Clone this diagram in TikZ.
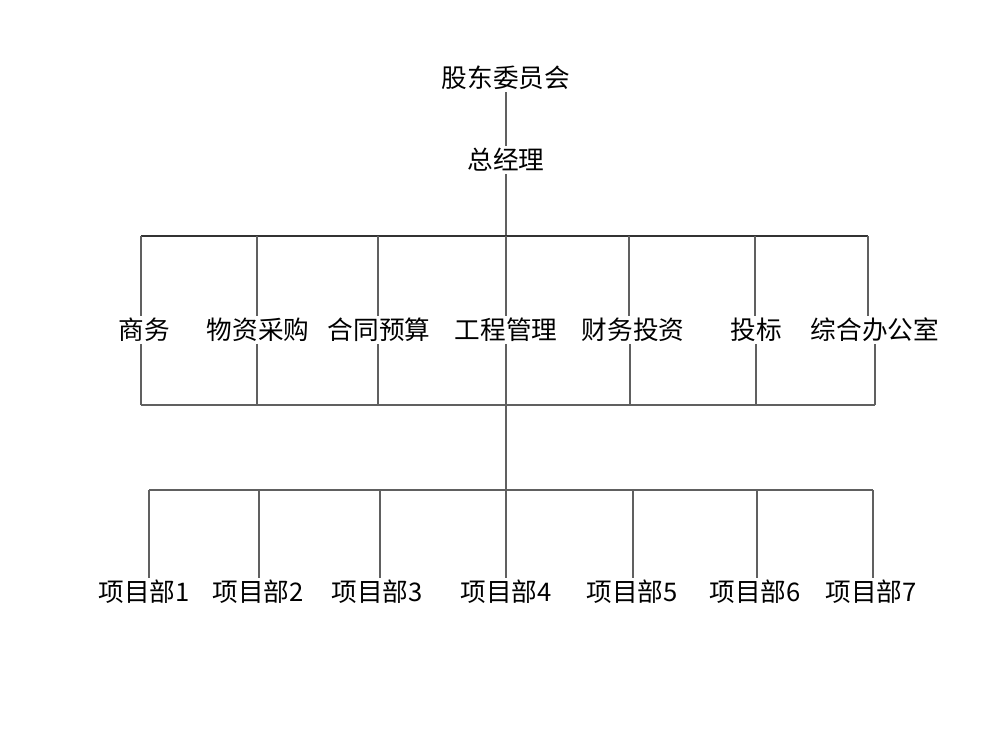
\documentclass[tikz,border=0pt]{standalone}
\usepackage{fontspec}
\setmainfont{Noto Sans CJK SC}

\begin{document}
\begin{tikzpicture}[x=0.02cm,y=-0.02cm,
	unit/.style={inner sep=1pt,font=\fontsize{14.6pt}{17pt}\selectfont},
	link/.style={gray!75!black,line width=0.6pt},
	bus/.style={black!80,line width=0.6pt}]
	\useasboundingbox (0,0) rectangle (1000,750);
	
	% Draw top units
	\node[unit] (board) at (506,78) {股东委员会};
	\node[unit] (manager) at (506,160) {总经理};
	\draw[link] (board) -- (manager);
	
	% Draw departments
	\foreach \n/\x/\t in {1/144/商务,2/258/物资采购,3/379/合同预算,4/506/工程管理,5/633/财务投资,6/756/投标,7/875/综合办公室}
		\node[unit] (dept\n) at (\x,330) {\t};
	
	% Draw project offices
	\foreach \n/\x in {1/144,2/258,3/377,4/506,5/632,6/755,7/871}
		\node[unit] (proj\n) at (\x,592) {项目部\n};
	
	% Bus coordinates
	\foreach \n/\x in {1/141,2/257,3/378,4/506,5/629,6/755,7/868} \coordinate (up\n) at (\x,236);
	\foreach \n/\x in {1/141,2/257,3/378,4/506,5/630,6/756,7/875} \coordinate (low\n) at (\x,405);
	\foreach \n/\x in {1/149,2/259,3/380,4/506,5/633,6/757,7/873} \coordinate (pb\n) at (\x,490);
	
	% Connect manager to departments
	\draw[link] (manager) -- (up4);
	\draw[bus] (up1) -- (up7);
	\foreach \n in {1,...,7} \draw[link] (up\n) -- (up\n |- dept\n.north);
	\foreach \n in {1,...,7} \draw[link] (low\n |- dept\n.south) -- (low\n);
	\draw[link] (low1) -- (low7);
	
	% Connect to project offices
	\draw[link] (low4) -- (pb4);
	\draw[link] (pb1) -- (pb7);
	\foreach \n in {1,...,7} \draw[link] (pb\n) -- (pb\n |- proj\n.north);
\end{tikzpicture}
\end{document}
